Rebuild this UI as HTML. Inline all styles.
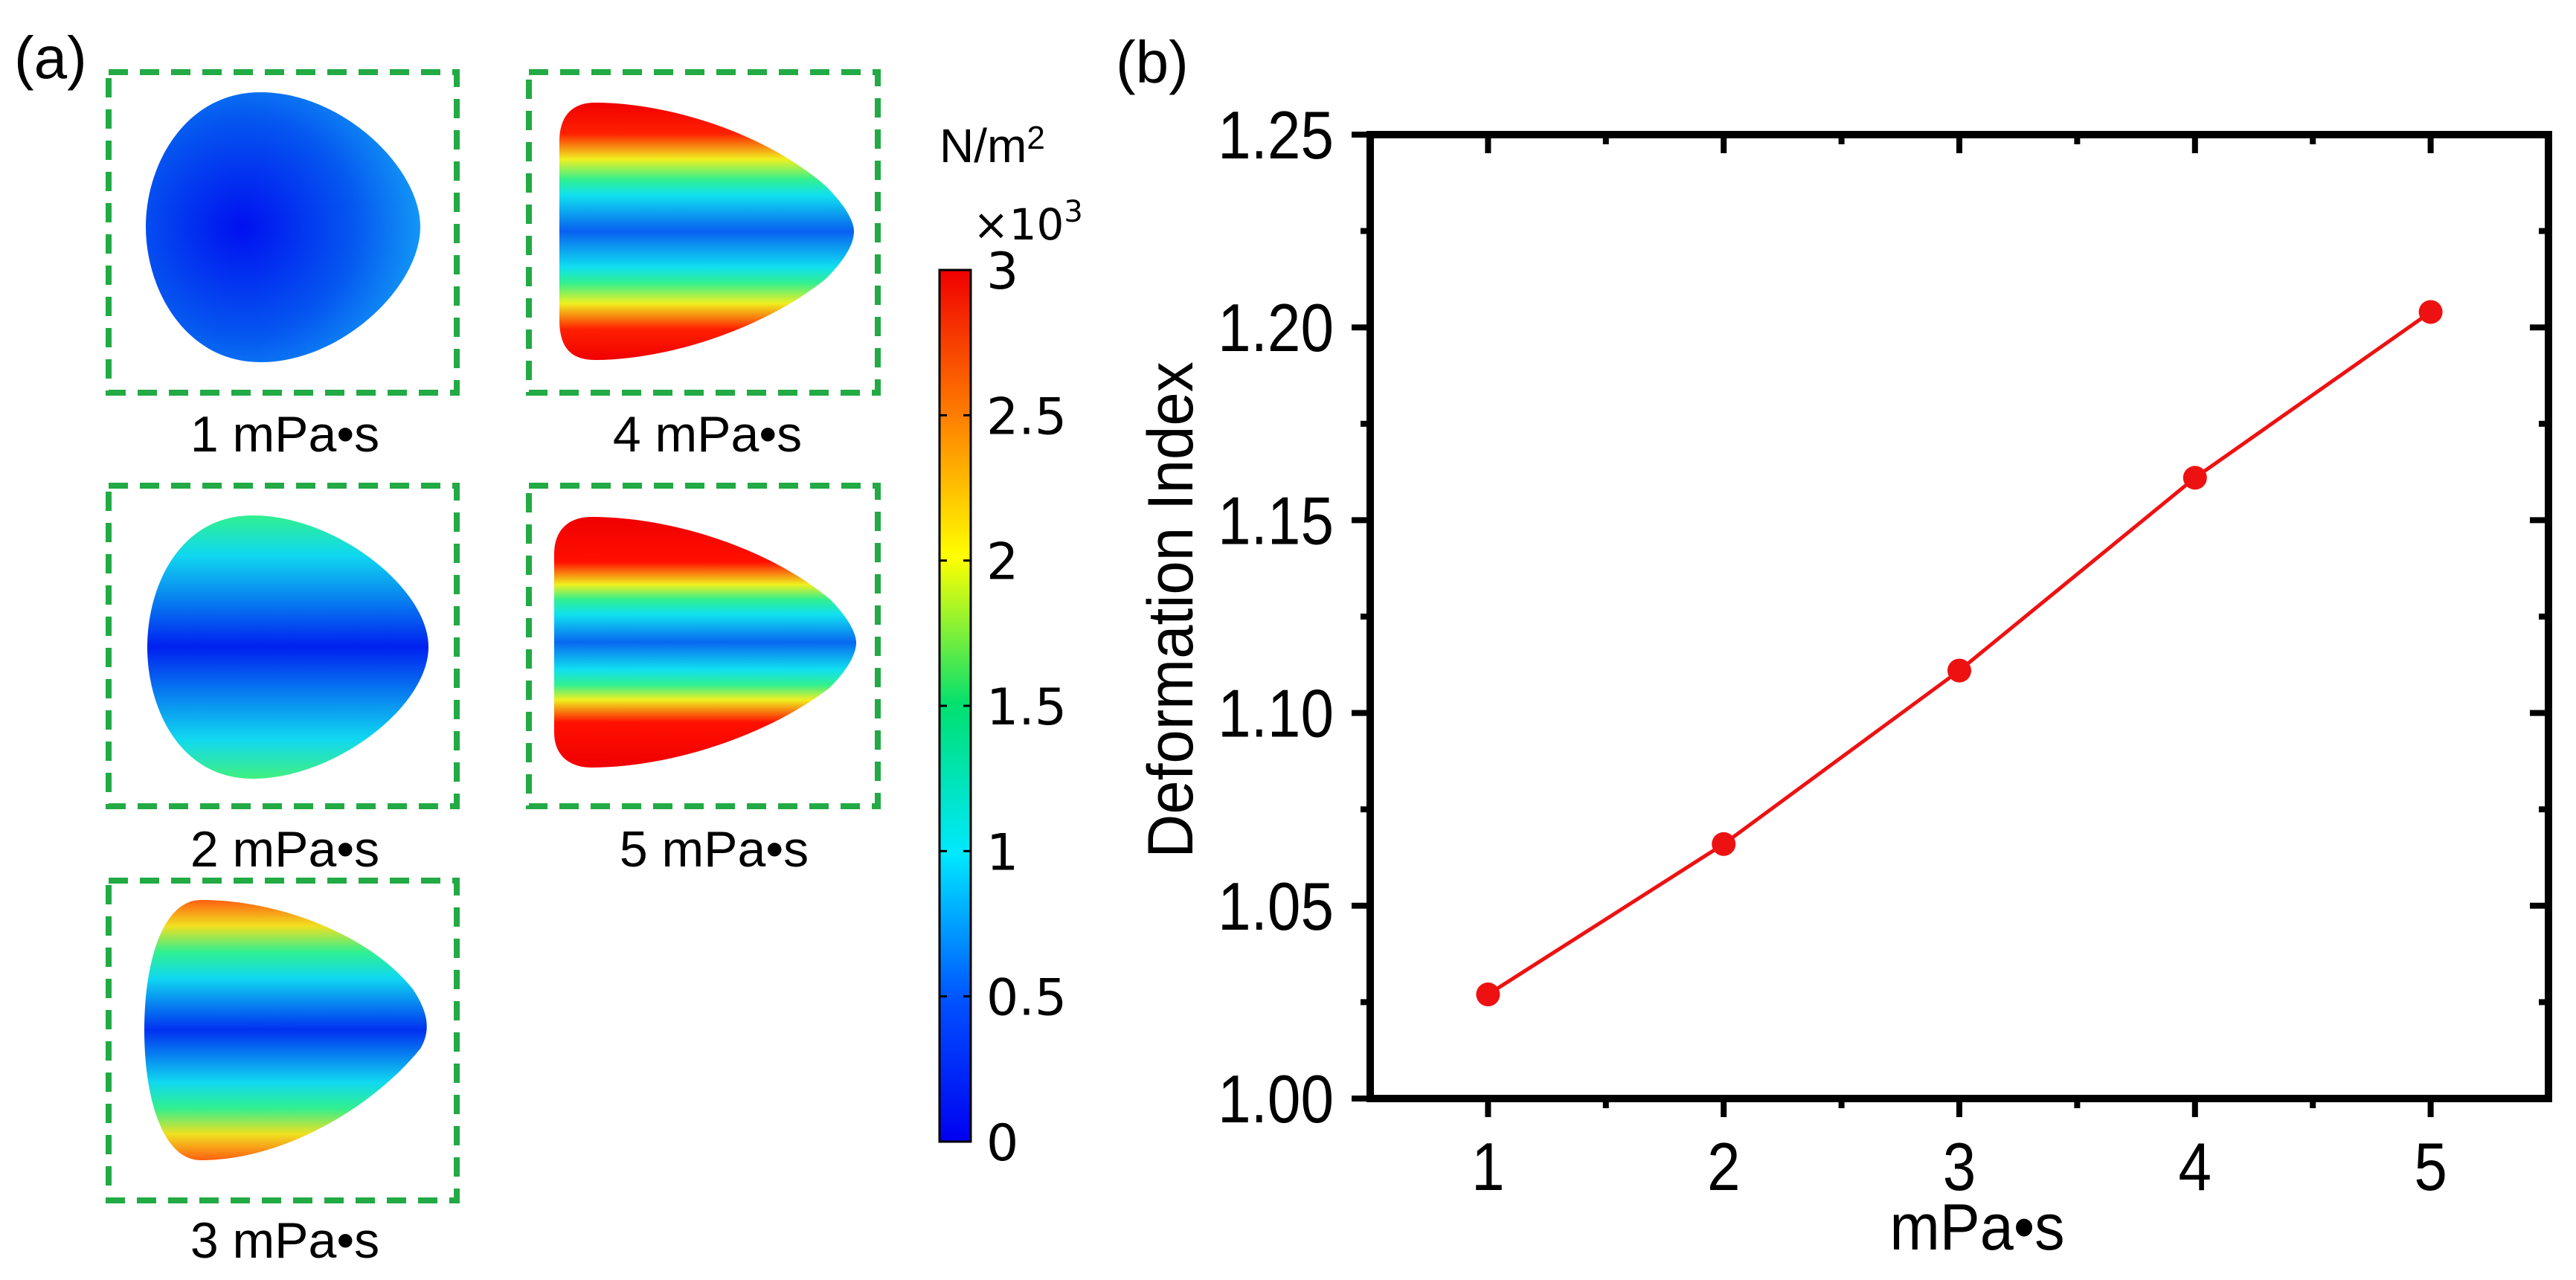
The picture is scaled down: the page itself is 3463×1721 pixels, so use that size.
<!DOCTYPE html>
<html><head><meta charset="utf-8"><style>
html,body{margin:0;padding:0;background:#fff;}
svg{display:block;font-family:"Liberation Sans","DejaVu Sans",sans-serif;}
</style></head><body>
<svg id="fig" width="3463" height="1721" viewBox="0 0 3463 1721" xmlns="http://www.w3.org/2000/svg">
<defs>
<linearGradient id="cbar" x1="0" y1="1" x2="0" y2="0">
<stop offset="0" stop-color="#0000f0"/><stop offset="0.16" stop-color="#0050ff"/>
<stop offset="0.33" stop-color="#00e8ff"/><stop offset="0.5" stop-color="#00e070"/>
<stop offset="0.67" stop-color="#ffff00"/><stop offset="0.83" stop-color="#ff8000"/>
<stop offset="1" stop-color="#f00000"/></linearGradient>
<radialGradient id="g1" cx="0.35" cy="0.5" r="0.75"><stop offset="0" stop-color="#0010f0"/><stop offset="0.55" stop-color="#0558f0"/><stop offset="1" stop-color="#18b0f8"/></radialGradient>
<linearGradient id="g2" x1="0" y1="0" x2="0" y2="1">
<stop offset="0" stop-color="#30f090"/><stop offset="0.15" stop-color="#10d8f0"/><stop offset="0.32" stop-color="#0880f0"/><stop offset="0.5" stop-color="#0020f0"/><stop offset="0.68" stop-color="#0880f0"/><stop offset="0.85" stop-color="#10d8f0"/><stop offset="1" stop-color="#40f080"/></linearGradient>
<linearGradient id="g3" x1="0" y1="0" x2="0" y2="1">
<stop offset="0" stop-color="#ff6010"/><stop offset="0.1" stop-color="#f0e020"/><stop offset="0.2" stop-color="#30f090"/><stop offset="0.3" stop-color="#10d8f0"/><stop offset="0.5" stop-color="#0030f0"/><stop offset="0.7" stop-color="#10d8f0"/><stop offset="0.8" stop-color="#30f090"/><stop offset="0.9" stop-color="#f0e020"/><stop offset="1" stop-color="#ff6010"/></linearGradient>
<linearGradient id="g4" x1="0" y1="0" x2="0" y2="1">
<stop offset="0" stop-color="#f00000"/><stop offset="0.12" stop-color="#ff2000"/><stop offset="0.22" stop-color="#f0f020"/><stop offset="0.3" stop-color="#30f090"/><stop offset="0.36" stop-color="#10e0f0"/><stop offset="0.5" stop-color="#0860f0"/><stop offset="0.64" stop-color="#10e0f0"/><stop offset="0.7" stop-color="#30f090"/><stop offset="0.78" stop-color="#f0f020"/><stop offset="0.88" stop-color="#ff2000"/><stop offset="1" stop-color="#f00000"/></linearGradient>
<linearGradient id="g5" x1="0" y1="0" x2="0" y2="1">
<stop offset="0" stop-color="#f00000"/><stop offset="0.18" stop-color="#ff1000"/><stop offset="0.27" stop-color="#f0f020"/><stop offset="0.33" stop-color="#30f090"/><stop offset="0.39" stop-color="#10e0f0"/><stop offset="0.5" stop-color="#0868f0"/><stop offset="0.61" stop-color="#10e0f0"/><stop offset="0.67" stop-color="#30f090"/><stop offset="0.73" stop-color="#f0f020"/><stop offset="0.82" stop-color="#ff1000"/><stop offset="1" stop-color="#f00000"/></linearGradient>
</defs>

<text x="19" y="105" font-size="80">(a)</text>
<g fill="none" stroke="#22aa44" stroke-width="8" stroke-dasharray="26,16">
<rect x="146" y="97" width="468" height="431"/>
<rect x="711" y="97" width="469" height="431"/>
<rect x="146" y="653" width="468" height="431"/>
<rect x="711" y="653" width="469" height="431"/>
<rect x="146" y="1184" width="468" height="430"/>
</g>
<path fill="url(#g1)" d="M350,124 C460,124 565,225 565,305 C565,385 460,487 350,487 C250,487 196,390 196,305 C196,220 250,124 350,124Z"/>
<path fill="url(#g2)" d="M340,693 C450,693 576,790 576,870 C576,950 450,1047 340,1047 C240,1047 198,950 198,870 C198,790 240,693 340,693Z"/>
<path fill="url(#g3)" d="M270,1210 C380,1210 500,1260 555,1330 C575,1360 580,1385 565,1410 C500,1490 380,1560 270,1560 C220,1560 194,1480 194,1385 C194,1290 220,1210 270,1210Z"/>
<path fill="url(#g4)" d="M800,138 C900,138 1030,180 1110,250 C1140,280 1148,300 1148,311 C1148,325 1140,345 1110,375 C1030,440 900,484 800,484 C770,484 752,470 752,430 L752,190 C752,155 770,138 800,138Z"/>
<path fill="url(#g5)" d="M795,695 C900,695 1030,735 1115,805 C1145,835 1151,855 1151,864 C1151,875 1145,895 1115,925 C1030,990 900,1032 795,1032 C765,1032 745,1015 745,985 L745,745 C745,712 765,695 795,695Z"/>
<g font-size="68" text-anchor="middle" fill="#000">
<text x="383" y="607">1 mPa•s</text>
<text x="951" y="607">4 mPa•s</text>
<text x="383" y="1165">2 mPa•s</text>
<text x="960" y="1165">5 mPa•s</text>
<text x="383" y="1691">3 mPa•s</text>
</g>
<text x="1263" y="218" font-size="64">N/m<tspan font-size="44" dy="-18">2</tspan></text>
<text x="1308" y="322" font-size="58" font-family="DejaVu Sans, sans-serif">×10<tspan font-size="40" dy="-24">3</tspan></text>
<rect x="1263" y="363" width="42" height="1172" fill="url(#cbar)" stroke="#000" stroke-width="3"/>
<g id="cbticks"></g>

<text x="1500" y="111" font-size="80">(b)</text>
<g id="chart"></g>
</svg>
<script>
const xValues=[1,2,3,4,5];
const yValues=[1.027,1.066,1.111,1.161,1.204];
const xTicks=[1,2,3,4,5];
const yTicks=[1.00,1.05,1.10,1.15,1.20,1.25];
const yTickLabels=["1.00","1.05","1.10","1.15","1.20","1.25"];
const cbTicks=[0,0.5,1,1.5,2,2.5,3];
const cbLabels=["0","0.5","1","1.5","2","2.5","3"];

const NS="http://www.w3.org/2000/svg";
const L=1842,R=3426,T=181,B=1477,X0=0.5,X1=5.5,Y0=1.0,Y1=1.25;
function sx(v){return L+(v-X0)/(X1-X0)*(R-L);}
function sy(v){return B-(v-Y0)/(Y1-Y0)*(B-T);}
function mk(tag,attrs,parent){const e=document.createElementNS(NS,tag);for(const k in attrs)e.setAttribute(k,attrs[k]);parent.appendChild(e);return e;}
const g=document.getElementById('chart');
const cb=document.getElementById('cbticks');

cbTicks.forEach((v,i)=>{
  const y=1535-(v/3)*1172;
  const t=mk('line',{x1:1263,x2:1273,y1:y,y2:y,stroke:'#000','stroke-width':3},cb);
  
  
  const t2=mk('line',{x1:1295,x2:1305,y1:y,y2:y,stroke:'#000','stroke-width':3},cb);
  
  
  const tx=mk('text',{x:1326,y:y+25,'font-size':68,'font-family':'DejaVu Sans, sans-serif'},cb);
  tx.textContent=cbLabels[i];
  
  
});

for(let v=1;v<=5.0001;v+=0.5){
  const x=sx(v);const major=Math.abs(v-Math.round(v))<1e-6;const len=major?25:13;
  const a=mk('line',{x1:x,x2:x,y1:B,y2:B+len,stroke:'#000','stroke-width':8},g);
  
  
  const b=mk('line',{x1:x,x2:x,y1:T,y2:T+len,stroke:'#000','stroke-width':8},g);
  
  
}
for(let k=0;k<=10;k++){
  const v=1+k*0.025;const y=sy(v);const major=k%2===0;const len=major?25:13;
  const a=mk('line',{x1:L-len,x2:L,y1:y,y2:y,stroke:'#000','stroke-width':8},g);
  
  
  const b=mk('line',{x1:R-len,x2:R,y1:y,y2:y,stroke:'#000','stroke-width':8},g);
  
  
}
const frame=mk('rect',{x:L,y:T,width:R-L,height:B-T,fill:'none',stroke:'#000','stroke-width':10},g);



xTicks.forEach(v=>{
  const t=mk('text',{x:0,y:0,'font-size':91,'text-anchor':'middle',transform:'translate('+sx(v)+',1600) scale(0.88,1)'},g);
  t.textContent=String(v);
  
  
});
yTicks.forEach((v,i)=>{
  const t=mk('text',{x:0,y:0,'font-size':91,'text-anchor':'end',transform:'translate(1793,'+(sy(v)+32)+') scale(0.88,1)'},g);
  t.textContent=yTickLabels[i];
  
  
});
const xt=mk('text',{x:0,y:0,'font-size':88,'text-anchor':'middle',transform:'translate(2658,1680) scale(0.92,1)'},g);
xt.textContent='mPa•s';


const yt=mk('text',{x:0,y:0,'font-size':86,'text-anchor':'middle',transform:'translate(1603,820) rotate(-90) scale(0.95,1)'},g);
yt.textContent='Deformation Index';



const pts=xValues.map((x,i)=>sx(x)+','+sy(yValues[i])).join(' ');
const line=mk('polyline',{points:pts,fill:'none',stroke:'#ee1111','stroke-width':5},g);


xValues.forEach((x,i)=>{
  const c=mk('circle',{cx:sx(x),cy:sy(yValues[i]),r:16,fill:'#ee1111'},g);
  
  
});
</script>
</body></html>
